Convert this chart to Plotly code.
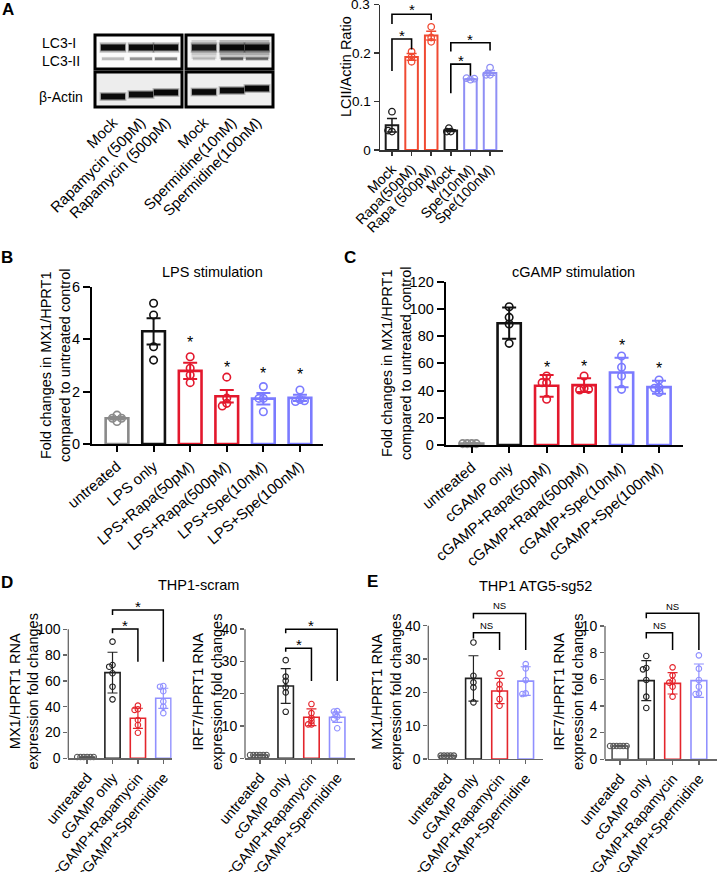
import plotly.graph_objects as go

W, H = 717, 872
FONT = "Liberation Sans, Arial, Helvetica, sans-serif"

# ======================= DATA =======================
# Panel A - western blot (lane labels and relative band intensities)
blot_lanes = ["Mock", "Rapamycin (50pM)", "Rapamycin (500pM)",
              "Mock", "Spermidine(10nM)", "Spermidine(100nM)"]
blot_lc3i = [0.92, 0.92, 0.92, 0.85, 0.95, 0.95]
blot_lc3i_smear = [0.0, 0.0, 0.0, 0.18, 0.30, 0.30]
blot_lc3ii = [0.18, 0.30, 0.35, 0.12, 0.45, 0.40]
blot_actin = [0.92, 0.90, 0.95, 0.92, 0.92, 0.95]

# Panel A - LC3-II / actin ratio
a_cats = ["Mock", "Rapa(50pM)", "Rapa (500pM)", "Mock", "Spe(10nM)", "Spe(100nM)"]
a_means = [0.051, 0.192, 0.236, 0.040, 0.146, 0.159]
a_errs = [0.014, 0.007, 0.009, 0.002, 0.001, 0.005]
a_points = [[0.079, 0.038, 0.040], [0.203, 0.192, 0.182], [0.254, 0.232, 0.223],
            [0.038, 0.045, 0.038], [0.145, 0.148, 0.147], [0.170, 0.155, 0.155]]
a_brackets = [(0, 1, 0.163, 0.229, 0.207, "*", 0.244),
              (0, 2, 0.260, 0.280, 0.268, "*", 0.297),
              (3, 4, 0.117, 0.177, 0.153, "*", 0.192),
              (3, 5, 0.203, 0.221, 0.205, "*", 0.237)]

# Panel B - LPS stimulation
b_cats = ["untreated", "LPS only", "LPS+Rapa(50pM)", "LPS+Rapa(500pM)",
          "LPS+Spe(10nM)", "LPS+Spe(100nM)"]
b_means = [0.98, 4.30, 2.79, 1.82, 1.73, 1.76]
b_errs = [0.05, 0.50, 0.31, 0.24, 0.22, 0.12]
b_points = [[1.10, 0.98, 0.98, 0.86], [5.37, 4.92, 3.71, 3.20],
            [3.33, 2.89, 2.63, 2.34], [2.55, 1.75, 1.55, 1.45],
            [2.19, 1.74, 1.74, 1.23], [2.06, 1.70, 1.62, 1.65]]
b_stars = [None, None, 4.03, 3.08, 2.85, 2.80]

# Panel C - cGAMP stimulation
c_cats = ["untreated", "cGAMP only", "cGAMP+Rapa(50pM)", "cGAMP+Rapa(500pM)",
          "cGAMP+Spe(10nM)", "cGAMP+Spe(100nM)"]
c_means = [1.0, 89.5, 43.5, 44.0, 53.3, 42.5]
c_errs = [0.3, 11.5, 8.0, 5.0, 10.8, 4.8]
c_points = [[1.0, 1.0, 1.0, 1.0], [101.6, 93.8, 88.9, 74.7],
            [50.7, 45.8, 45.8, 33.6], [50.7, 41.7, 40.4, 40.9],
            [65.4, 57.1, 50.7, 40.9], [47.8, 42.1, 41.7, 38.7]]
c_stars = [None, None, 60.0, 60.5, 75.9, 59.5]

# Panels D / E - THP1 cells
de_cats = ["untreated", "cGAMP only", "cGAMP+Rapamycin", "cGAMP+Spermidine"]

d1_means = [1.0, 66.4, 31.0, 46.5]
d1_errs = [0.1, 15.8, 7.8, 7.8]
d1_points = [[1, 1, 1, 1, 1, 1], [90.4, 72.3, 71.0, 65.9, 55.5, 45.7],
             [40.8, 38.0, 37.5, 29.7, 25.8, 19.8], [56.0, 55.5, 52.0, 44.0, 40.0, 35.0]]
d1_brackets = [(1, 2, 97.0, 100.2, 74.9, "*", 105.9),
               (1, 3, 111.0, 115.0, 74.9, "*", 120.6)]

d2_means = [1.0, 22.4, 12.7, 12.7]
d2_errs = [0.05, 5.4, 2.6, 1.6]
d2_points = [[1, 1, 1, 1, 1, 1], [30.4, 25.3, 24.0, 22.0, 20.4, 14.4],
             [16.8, 14.0, 12.5, 11.5, 10.5, 10.5], [14.6, 14.5, 13.7, 12.9, 12.3, 9.3]]
d2_brackets = [(1, 2, 33.0, 34.1, 23.9, "*", 36.4),
               (1, 3, 38.7, 40.0, 23.9, "*", 42.3)]

e1_means = [1.0, 24.2, 20.4, 23.4]
e1_errs = [0.1, 6.8, 3.8, 4.3]
e1_points = [[1, 1, 1, 1, 1], [35.0, 25.0, 23.0, 21.5, 17.0],
             [25.7, 22.4, 21.0, 18.0, 16.0], [28.5, 27.2, 23.7, 19.7, 19.5]]
e1_brackets = [(1, 2, 36.2, 37.9, 32.7, "NS", 40.2),
               (1, 3, 42.2, 43.7, 32.7, "NS", 46.0)]

e2_means = [1.0, 5.9, 5.7, 5.9]
e2_errs = [0.03, 1.5, 0.8, 1.25]
e2_points = [[1, 1, 1, 1, 1, 1], [7.75, 6.85, 6.75, 5.95, 4.70, 3.85],
             [6.90, 6.30, 5.87, 5.75, 5.45, 4.70], [7.80, 6.80, 5.95, 5.45, 4.95, 4.90]]
e2_brackets = [(1, 2, 9.07, 9.5, 8.2, "NS", 10.07),
               (1, 3, 10.58, 10.95, 8.2, "NS", 11.5)]

# ======================= STYLE =======================
A_COL = ["#1a1a1a", "#f04a32", "#f04a32", "#1a1a1a", "#8f8ff5", "#8f8ff5"]
BC_COL = ["#8a8a8a", "#111111", "#e3182d", "#e3182d", "#7b7bff", "#7b7bff"]
DE_COL = ["#555555", "#222222", "#e4252c", "#9090ff"]

fig = go.Figure()
shapes = []
annotations = []
layout = {}


def dom_x(l, r):
    return [l / W, r / W]


def dom_y(t, b):
    return [1 - b / H, 1 - t / H]


def swarm(vals, kx, ky, d):
    cands = [0.0]
    for m in range(1, 15):
        cands += [-m * 0.3 * d, m * 0.3 * d]
    placed, out = [], []
    for v in vals:
        yp = v * ky
        for c in cands:
            if all((c - px) ** 2 + (yp - py) ** 2 >= (0.55 * d) ** 2 for px, py in placed):
                placed.append((c, yp))
                out.append(c / kx)
                break
    return out


def bar_panel(idx, cats, means, errs, points, colors, box, xr, yr, tickvals, ticktext, st,
              line_top=None, brackets=(), stars=None):
    xa = "x" if idx == 1 else f"x{idx}"
    ya = "y" if idx == 1 else f"y{idx}"
    l, r, t, b = box
    kx = (r - l) / (xr[1] - xr[0])
    ky = (b - t) / (yr[1] - yr[0])
    xs = list(range(len(cats)))
    fig.add_trace(go.Bar(x=xs, y=means, width=st["bw"], xaxis=xa, yaxis=ya,
                         marker=dict(color="white", line=dict(color=colors, width=st["blw"])),
                         hoverinfo="skip"))
    for i in xs:
        offs = swarm(points[i], kx, ky, st["ms"])
        fig.add_trace(go.Scatter(x=[i + o for o in offs], y=points[i], mode="markers",
                                 xaxis=xa, yaxis=ya, cliponaxis=False, hoverinfo="skip",
                                 marker=dict(symbol="circle-open", size=st["ms"], color=colors[i],
                                             line=dict(width=st["mlw"]))))
        fig.add_trace(go.Scatter(x=[i], y=[means[i]], mode="markers", xaxis=xa, yaxis=ya,
                                 hoverinfo="skip", marker=dict(size=1, opacity=0),
                                 error_y=dict(type="data", array=[errs[i]], color=colors[i],
                                              thickness=st["ew"], width=st["cap"])))
    ax_col = st["axcol"]
    xkey = "xaxis" if idx == 1 else f"xaxis{idx}"
    ykey = "yaxis" if idx == 1 else f"yaxis{idx}"
    layout[xkey] = dict(domain=dom_x(l, r), range=xr, anchor=ya, tickmode="array",
                        tickvals=xs, ticktext=cats, tickangle=st["xangle"], automargin=False,
                        showgrid=False, zeroline=False, showline=True,
                        linecolor=ax_col, linewidth=st["alw"], ticks="outside",
                        ticklen=st["xticklen"], tickwidth=st["alw"], tickcolor=ax_col,
                        tickfont=dict(size=st["xfs"], color="black", family=FONT),
                        fixedrange=True)
    layout[ykey] = dict(domain=dom_y(t, b), range=yr, anchor=xa, tickmode="array",
                        tickvals=tickvals, ticktext=ticktext, automargin=False,
                        showgrid=False, zeroline=False, showline=line_top is None,
                        linecolor=ax_col, linewidth=st["alw"], ticks="outside",
                        ticklen=st["yticklen"], tickwidth=st["alw"], tickcolor=ax_col,
                        tickfont=dict(size=st["yfs"], color="black", family=FONT),
                        fixedrange=True)
    if line_top is not None:
        shapes.append(dict(type="line", xref="paper", yref=ya, x0=l / W, x1=l / W,
                           y0=0, y1=line_top, line=dict(color=ax_col, width=st["alw"])))
    for (i, j, yl, yt, yrr, lab, ylab) in brackets:
        shapes.append(dict(type="path", xref=xa, yref=ya,
                           path=f"M {i},{yl} L {i},{yt} L {j},{yt} L {j},{yrr}",
                           line=dict(color="black", width=st["brw"])))
        if lab == "*":
            annotations.append(dict(x=(i + j) / 2, y=ylab, xref=xa, yref=ya, text="*",
                                    showarrow=False, yshift=-4,
                                    font=dict(size=st["starfs"], color="black", family=FONT)))
        else:
            annotations.append(dict(x=(i + j) / 2, y=ylab, xref=xa, yref=ya, text=lab,
                                    showarrow=False,
                                    font=dict(size=9.5, color="black",
                                              family="Liberation Sans Narrow, " + FONT)))
    if stars:
        for i, s in enumerate(stars):
            if s is not None:
                annotations.append(dict(x=i, y=s, xref=xa, yref=ya, text="*", showarrow=False,
                                        yshift=-4,
                                        font=dict(size=st["starfs"], color="black", family=FONT)))


A_ST = dict(bw=0.64, blw=2.0, ms=6.5, mlw=1.3, ew=1.5, cap=5, axcol="#333333", alw=1.5,
            xangle=-45, xticklen=4, yticklen=5, xfs=14, yfs=13.5, brw=1.6, starfs=15)
BC_ST = dict(bw=0.62, blw=2.6, ms=7.5, mlw=1.6, ew=2.0, cap=7, axcol="#000000", alw=2.0,
             xangle=-40, xticklen=6, yticklen=7, xfs=15, yfs=14.5, brw=1.6, starfs=16)
DE_ST = dict(bw=0.6, blw=1.6, ms=5.5, mlw=1.1, ew=1.2, cap=5, axcol="#666666", alw=1.3,
             xangle=-50, xticklen=4, yticklen=4, xfs=14.5, yfs=14, brw=1.5, starfs=15)

# Panel A bar chart (top tick label drawn as annotation so it is not dropped)
bar_panel(1, a_cats, a_means, a_errs, a_points, A_COL, (380, 503, 4.5, 150), [-0.61, 5.66],
          [0, 0.3], [0, 0.1, 0.2, 0.3], ["0", "0.1", "0.2", " "], A_ST, brackets=a_brackets)
annotations.append(dict(xref="paper", yref="y", x=372 / W, y=0.3, text="0.3", showarrow=False,
                        xanchor="right", yanchor="middle",
                        font=dict(size=A_ST["yfs"], color="black", family=FONT)))
# Panel B
bar_panel(2, b_cats, b_means, b_errs, b_points, BC_COL, (92, 323, 286.7, 444), [-0.683, 5.63],
          [0, 6], [0, 2, 4, 6], ["0", "2", "4", "6"], BC_ST, stars=b_stars)
# Panel C
bar_panel(3, c_cats, c_means, c_errs, c_points, BC_COL, (445.7, 683, 281.7, 445), [-0.694, 5.64],
          [0, 120], [0, 20, 40, 60, 80, 100, 120], ["0", "20", "40", "60", "80", "100", "120"],
          BC_ST, stars=c_stars)
# Panel D
bar_panel(4, de_cats, d1_means, d1_errs, d1_points, DE_COL, (68.3, 171.7, 597.0, 758.3),
          [-0.74, 3.33], [0, 125], [0, 20, 40, 60, 80, 100], ["0", "20", "40", "60", "80", "100"],
          DE_ST, line_top=100, brackets=d1_brackets)
bar_panel(5, de_cats, d2_means, d2_errs, d2_points, DE_COL, (245, 355, 603.3, 758.3),
          [-0.58, 3.69], [0, 48], [0, 10, 20, 30, 40], ["0", "10", "20", "30", "40"],
          DE_ST, line_top=40, brackets=d2_brackets)
# Panel E
bar_panel(6, de_cats, e1_means, e1_errs, e1_points, DE_COL, (428.3, 542.7, 592.5, 759),
          [-0.727, 3.65], [0, 50], [0, 10, 20, 30, 40], ["0", "10", "20", "30", "40"],
          DE_ST, line_top=40, brackets=e1_brackets)
bar_panel(7, de_cats, e2_means, e2_errs, e2_points, DE_COL, (605, 716.5, 592.7, 759.3),
          [-0.57, 3.67], [0, 12.5], [0, 2, 4, 6, 8, 10], ["0", "2", "4", "6", "8", "10"],
          DE_ST, line_top=10, brackets=e2_brackets)

# ---------------- Western blot (axis 8, pixel-like units) ----------------
BL, BR, BT, BB = 90, 278, 30, 110
GROUP_LEFT = [95, 186]
BOX_W = 87
TOP_BOX = (35, 69)
BOT_BOX = (72, 107)
LANE_OFF = [18, 46, 71]
ACTIN_Y = [96.5, 94.5, 92.5, 92, 90.5, 88.5]
BOX_FILL = [["#fbfbfb", "#ededed"], ["#f4f4f4", "#efefef"]]

lane_x = [GROUP_LEFT[g] + o for g in range(2) for o in LANE_OFF]

fig.add_trace(go.Scatter(x=lane_x, y=[BB] * 6, mode="markers", marker=dict(size=1, opacity=0),
                         xaxis="x8", yaxis="y8", hoverinfo="skip"))
layout["xaxis8"] = dict(domain=dom_x(BL, BR), range=[BL, BR], anchor="y8", tickmode="array",
                        tickvals=lane_x, ticktext=blot_lanes, tickangle=-45, showgrid=False,
                        zeroline=False, showline=False, ticks="", automargin=False,
                        tickfont=dict(size=15, color="black", family=FONT), fixedrange=True)
layout["yaxis8"] = dict(domain=dom_y(BT, BB), range=[BB, BT], anchor="x8", visible=False,
                        showgrid=False, zeroline=False, fixedrange=True, automargin=False)


def rect8(x0, x1, y0, y1, fill, opacity=1.0, line=None):
    d = dict(type="rect", xref="x8", yref="y8", x0=x0, x1=x1, y0=y0, y1=y1,
             fillcolor=fill, opacity=opacity, layer="above",
             line=dict(width=0) if line is None else line)
    shapes.append(d)


for g in range(2):
    for k, (t0, t1) in enumerate([TOP_BOX, BOT_BOX]):
        rect8(GROUP_LEFT[g], GROUP_LEFT[g] + BOX_W, t0, t1, BOX_FILL[g][k])

for i, xc in enumerate(lane_x):
    # LC3-I
    rect8(xc - 13.5, xc + 13.5, 42, 53, "#000000", 0.18 * blot_lc3i[i])
    rect8(xc - 13, xc + 13, 43.5, 51.5, "#000000", 0.35 * blot_lc3i[i])
    rect8(xc - 12, xc + 12, 44.5, 50.5, "#000000", blot_lc3i[i])
    if blot_lc3i_smear[i] > 0:
        rect8(xc - 12.5, xc + 12.5, 50.5, 55, "#000000", blot_lc3i_smear[i])
        rect8(xc - 12.5, xc + 12.5, 55, 59, "#000000", blot_lc3i_smear[i] * 0.6)
        rect8(xc - 12.5, xc + 12.5, 40, 44.5, "#000000", blot_lc3i_smear[i] * 0.8)
    # LC3-II
    rect8(xc - 11.5, xc + 11.5, 56.8, 60.8, "#000000", blot_lc3ii[i] * 0.5)
    rect8(xc - 11, xc + 11, 57.5, 60, "#000000", blot_lc3ii[i])
    # beta-actin
    ya_ = ACTIN_Y[i]
    rect8(xc - 13.5, xc + 13.5, ya_ - 4.5, ya_ + 4.5, "#000000", 0.2 * blot_actin[i])
    rect8(xc - 12.5, xc + 12.5, ya_ - 3.7, ya_ + 3.7, "#000000", 0.4 * blot_actin[i])
    rect8(xc - 12, xc + 12, ya_ - 2.8, ya_ + 2.8, "#000000", blot_actin[i])

for g in range(2):
    for (t0, t1) in [TOP_BOX, BOT_BOX]:
        rect8(GROUP_LEFT[g], GROUP_LEFT[g] + BOX_W, t0, t1, "rgba(0,0,0,0)",
              line=dict(color="black", width=3))


def ann_px(x, y, text, size=14.5, angle=0, bold=False, xanchor="center", fam=FONT):
    annotations.append(dict(xref="paper", yref="paper", x=x / W, y=1 - y / H,
                            text=f"<b>{text}</b>" if bold else text, showarrow=False,
                            textangle=angle, xanchor=xanchor, yanchor="middle",
                            font=dict(size=size, color="black", family=fam)))


# blot row labels
ann_px(40, 43, "LC3-I", 14, xanchor="left")
ann_px(40, 61, "LC3-II", 14, xanchor="left")
ann_px(37, 97, "β-Actin", 14, xanchor="left")

# panel letters
for (lx, ly, lt) in [(8, 10, "A"), (7, 258, "B"), (350, 258, "C"), (7, 582, "D"), (372, 581, "E")]:
    ann_px(lx, ly, lt, 17, bold=True)

# titles
ann_px(212, 272, "LPS stimulation", 14.5)
ann_px(573, 272, "cGAMP stimulation", 14.5)
ann_px(198, 585, "THP1-scram", 14.5)
ann_px(535, 586, "THP1 ATG5-sg52", 14.5)

# y-axis titles
ann_px(346, 67, "LCII/Actin Ratio", 14.5, angle=-90)
ann_px(55, 366, "Fold changes in MX1/HPRT1<br>compared to untreated control", 14.5, angle=-90)
ann_px(396, 364, "Fold changes in MX1/HPRT1<br>compared to untreated control", 14.5, angle=-90)
ann_px(23.5, 692, "MX1/HPRT1 RNA<br>expression fold changes", 14.5, angle=-90)
ann_px(207, 692, "IRF7/HPRT1 RNA<br>expression fold changes", 14.5, angle=-90)
ann_px(386, 692, "MX1/HPRT1 RNA<br>expression fold changes", 14.5, angle=-90)
ann_px(568, 692, "IRF7/HPRT1 RNA<br>expression fold changes", 14.5, angle=-90)

fig.update_layout(**layout)
fig.update_layout(width=W, height=H, margin=dict(l=0, r=0, t=0, b=0), showlegend=False,
                  paper_bgcolor="white", plot_bgcolor="white", hovermode=False,
                  font=dict(family=FONT, color="black"), barmode="overlay",
                  shapes=shapes, annotations=annotations)
fig.write_html("out.html", config={"displayModeBar": False, "staticPlot": True},
               post_script="document.body.style.margin='0';document.body.style.overflow='hidden';")
